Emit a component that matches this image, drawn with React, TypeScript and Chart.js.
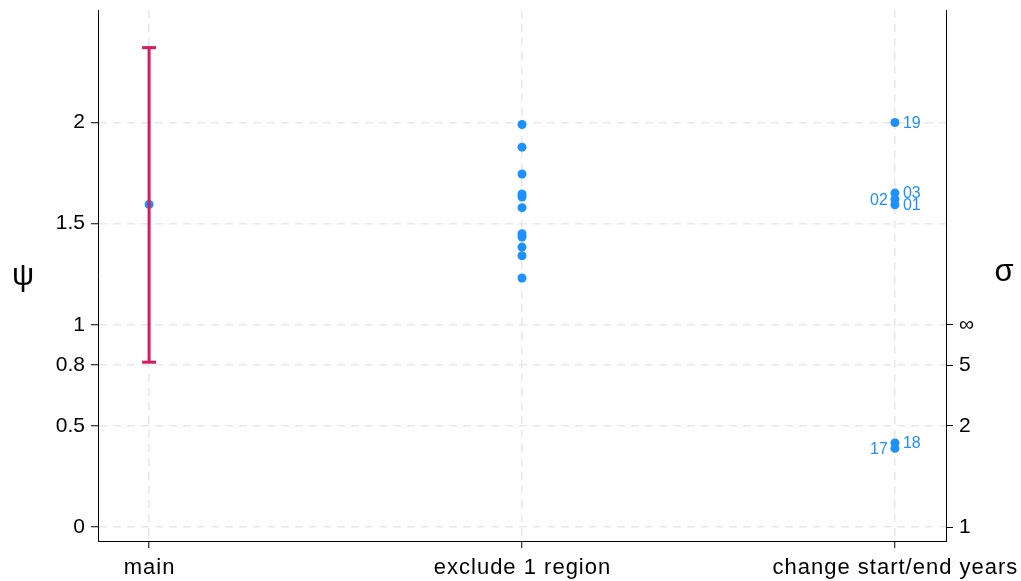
import React, { useEffect, useRef } from 'react';
import { Chart, registerables } from 'chart.js';

Chart.register(...registerables);

const W = 1021;
const H = 581;

// ---- data ----
const xCategories = ['main', 'exclude 1 region', 'change start/end years'];
const mainEstimate = 1.595;
const mainLower = 0.815;
const mainUpper = 2.37;
const excludeValues = [1.99, 1.878, 1.745, 1.647, 1.631, 1.579, 1.45, 1.434, 1.384, 1.341, 1.231];
const changeValues = [2.0, 1.651, 1.621, 1.593, 0.416, 0.389];
const changeLabels = ['19', '03', '02', '01', '18', '17'];
const changeLabelSide = ['right', 'right', 'left', 'right', 'right', 'left'];
const psiTicks = [0, 0.5, 0.8, 1, 1.5, 2];
const sigmaTickValues = [1, 2, 5, Infinity];
const sigmaTickLabels = ['1', '2', '5', '∞'];

const FONT = "'Liberation Sans', Arial, sans-serif";
const BLUE = '#1e90ff';
const PINK = '#d81b60';
const GRID = '#e8e8e8';

const sigmaToPsi = (s: number) => (s === Infinity ? 1 : 1 - 1 / s);

const textPlugin = {
  id: 'textPlugin',
  afterDraw(chart: any) {
    const ctx = chart.ctx;
    const xs = chart.scales.x;
    const ys = chart.scales.y;
    ctx.save();
    // point labels
    ctx.font = `16px ${FONT}`;
    ctx.fillStyle = BLUE;
    ctx.textBaseline = 'middle';
    changeValues.forEach((v, i) => {
      const px = xs.getPixelForValue(2);
      const py = ys.getPixelForValue(v);
      if (changeLabelSide[i] === 'right') {
        ctx.textAlign = 'left';
        ctx.fillText(changeLabels[i], px + 8, py + 1);
      } else {
        ctx.textAlign = 'right';
        ctx.fillText(changeLabels[i], px - 7, py + 1);
      }
    });
    // x category labels
    ctx.fillStyle = '#000';
    ctx.font = `22px ${FONT}`;
    ctx.textBaseline = 'alphabetic';
    ctx.textAlign = 'left';
    (ctx as any).letterSpacing = '1px';
    xCategories.forEach((c, i) => {
      const px = xs.getPixelForValue(i);
      const w = ctx.measureText(c).width - 1;
      ctx.fillText(c, px - w / 2, 574);
    });
    (ctx as any).letterSpacing = '0px';
    // axis titles
    ctx.textAlign = 'center';
    ctx.textBaseline = 'middle';
    ctx.font = `31px ${FONT}`;
    ctx.fillText('ψ', 23, 276);
    ctx.fillText('σ', 1004, 272);
    ctx.restore();
  },
};

const zeroPad = (s: any) => {
  s.paddingTop = 0;
  s.paddingBottom = 0;
  s.paddingLeft = 0;
  s.paddingRight = 0;
};

export default function App() {
  const ref = useRef<HTMLCanvasElement>(null);
  useEffect(() => {
    const tickFont = { family: FONT, size: 21 };
    const chart = new Chart(ref.current as HTMLCanvasElement, {
      type: 'scatter',
      data: {
        datasets: [
          {
            label: 'ci',
            type: 'line',
            data: [
              { x: 0, y: mainLower },
              { x: 0, y: mainUpper },
            ],
            borderColor: PINK,
            borderWidth: 3,
            showLine: true,
            pointStyle: 'line',
            pointRadius: 7,
            pointBorderWidth: 3,
            pointBorderColor: PINK,
            pointBackgroundColor: PINK,
            fill: false,
            order: 0,
          } as any,
          {
            label: 'main',
            data: [{ x: 0, y: mainEstimate }],
            backgroundColor: BLUE,
            borderWidth: 0,
            pointRadius: 4.5,
            order: 1,
          },
          {
            label: 'exclude',
            data: excludeValues.map((v) => ({ x: 1, y: v })),
            backgroundColor: BLUE,
            borderWidth: 0,
            pointRadius: 4.5,
            order: 1,
          },
          {
            label: 'change',
            data: changeValues.map((v) => ({ x: 2, y: v })),
            backgroundColor: BLUE,
            borderWidth: 0,
            pointRadius: 4.5,
            order: 1,
          },
        ],
      },
      options: {
        responsive: false,
        animation: false,
        layout: { padding: { top: 5, left: 0, right: 0, bottom: 0 } },
        plugins: { legend: { display: false }, tooltip: { enabled: false } },
        scales: {
          x: {
            type: 'linear',
            position: 'bottom',
            min: -0.137,
            max: 2.137,
            afterBuildTicks: (s: any) => {
              s.ticks = xCategories.map((_, i) => ({ value: i }));
            },
            afterFit: (s: any) => {
              s.height = 40;
              zeroPad(s);
            },
            ticks: {
              display: false,
              autoSkip: false,
              maxRotation: 0,
            },
            grid: {
              color: GRID,
              lineWidth: 1.5,
              tickColor: '#000',
              tickLength: 7,
              tickWidth: 1,
              tickBorderDash: [],
            } as any,
            border: { display: true, color: '#000', width: 1, dash: [8, 6] } as any,
          },
          y: {
            type: 'linear',
            position: 'left',
            min: -0.069,
            max: 2.556,
            afterBuildTicks: (s: any) => {
              s.ticks = psiTicks.map((v) => ({ value: v }));
            },
            afterFit: (s: any) => {
              s.width = 98;
              zeroPad(s);
            },
            ticks: {
              callback: (v: any) => String(v),
              font: tickFont,
              color: '#000',
              padding: 6,
            },
            grid: {
              color: GRID,
              lineWidth: 1.5,
              tickColor: '#000',
              tickLength: 7,
              tickWidth: 1,
              tickBorderDash: [],
            } as any,
            border: { display: true, color: '#000', width: 1, dash: [8, 6] } as any,
          },
          y2: {
            type: 'linear',
            position: 'right',
            min: -0.069,
            max: 2.556,
            afterBuildTicks: (s: any) => {
              s.ticks = sigmaTickValues.map((v) => ({ value: sigmaToPsi(v) }));
            },
            afterFit: (s: any) => {
              s.width = 75;
              zeroPad(s);
            },
            ticks: {
              callback: (_v: any, i: number) => sigmaTickLabels[i],
              font: tickFont,
              color: '#000',
              padding: 6,
            },
            grid: {
              drawOnChartArea: false,
              tickColor: '#000',
              tickLength: 7,
              tickWidth: 1,
            },
            border: { display: true, color: '#000', width: 1 },
          },
        },
      },
      plugins: [textPlugin],
    });
    return () => chart.destroy();
  }, []);
  return (
    <div style={{ position: 'fixed', left: 0, top: 0, width: W, height: H, background: '#fff' }}>
      <canvas ref={ref} width={W} height={H} style={{ width: W, height: H, display: 'block' }} />
    </div>
  );
}
